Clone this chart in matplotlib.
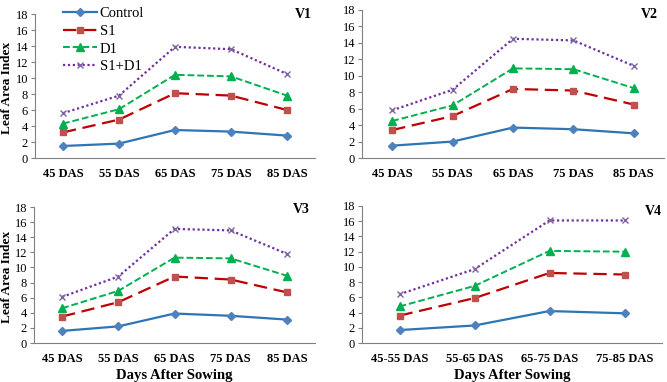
import matplotlib.pyplot as plt
from matplotlib.lines import Line2D

# 数据
das5 = ['45 DAS', '55 DAS', '65 DAS', '75 DAS', '85 DAS']
das4 = ['45-55 DAS', '55-65 DAS', '65-75 DAS', '75-85 DAS']

v1_control = [1.5, 1.8, 3.5, 3.3, 2.8]
v1_s1 = [3.2, 4.8, 8.1, 7.8, 6.0]
v1_d1 = [4.3, 6.1, 10.4, 10.2, 7.8]
v1_s1d1 = [5.6, 7.8, 13.9, 13.6, 10.5]

v2_control = [1.5, 2.0, 3.7, 3.5, 3.0]
v2_s1 = [3.4, 5.1, 8.4, 8.2, 6.5]
v2_d1 = [4.5, 6.4, 10.9, 10.8, 8.5]
v2_s1d1 = [5.8, 8.3, 14.5, 14.3, 11.2]

v3_control = [1.6, 2.2, 3.9, 3.6, 3.1]
v3_s1 = [3.5, 5.4, 8.8, 8.4, 6.7]
v3_d1 = [4.6, 6.9, 11.3, 11.2, 8.9]
v3_s1d1 = [6.1, 8.8, 15.1, 14.9, 11.8]

v4_control = [1.7, 2.3, 4.2, 3.9]
v4_s1 = [3.6, 5.9, 9.2, 9.0]
v4_d1 = [4.8, 7.5, 12.1, 12.0]
v4_s1d1 = [6.4, 9.7, 16.1, 16.1]

series_names = ['Control', 'S1', 'D1', 'S1+D1']

# 样式
styles = [
    dict(color='#2E75B6', ls='-', marker='D', mfc='#4F81BD', mec='#4F81BD', ms=4, lw=1.6),
    dict(color='#C00000', ls=(0, (6, 3)), marker='s', mfc='#C0504D', mec='#C0504D', ms=5, lw=1.6),
    dict(color='#00B050', ls=(0, (3.5, 1.5)), marker='^', mfc='#00B050', mec='#00B050', ms=5.5, lw=1.4),
    dict(color='#7030A0', ls=(0, (1, 1.2)), marker='x', mfc='#8064A2', mec='#8064A2', ms=5, lw=1.6, mew=1.0),
]

plt.rcParams['font.family'] = ['Liberation Serif', 'DejaVu Serif']

W, H = 667, 382
fig = plt.figure(figsize=(W / 100, H / 100), dpi=100)


def px_axes(left, right, top, bottom):
    return fig.add_axes([left / W, 1 - bottom / H, (right - left) / W, (bottom - top) / H])


panels = [
    ('V1', das5, [v1_control, v1_s1, v1_d1, v1_s1d1], (35, 315, 14, 158), (312, 8), True, False),
    ('V2', das5, [v2_control, v2_s1, v2_d1, v2_s1d1], (362, 664, 10, 158), (658, 8), False, False),
    ('V3', das5, [v3_control, v3_s1, v3_d1, v3_s1d1], (34, 315, 207, 343), (310, 203), True, True),
    ('V4', das4, [v4_control, v4_s1, v4_d1, v4_s1d1], (362, 662, 206, 343), (662, 205), False, True),
]

for name, cats, data, box, lab_pos, ylab, xlab in panels:
    ax = px_axes(*box)
    x = [i + 0.5 for i in range(len(cats))]
    for vals, st in zip(data, styles):
        ax.plot(x, vals, **st)
    ax.set_xlim(0, len(cats))
    ax.set_ylim(0, 18)
    ax.set_yticks(range(0, 19, 2))
    ax.set_xticks(x)
    ax.set_xticklabels(cats, fontweight='bold', fontsize=9)
    ax.tick_params(axis='x', length=0, pad=7)
    ax.tick_params(axis='y', length=3, labelsize=9, pad=2, color='#808080')
    for s in ['top', 'right']:
        ax.spines[s].set_visible(False)
    for s in ['left', 'bottom']:
        ax.spines[s].set_color('#808080')
    ymid = (box[2] + box[3]) / 2
    if ylab:
        fig.text(7 / W, 1 - (ymid + 2) / H, 'Leaf Area Index', rotation=90,
                 ha='center', va='center', fontweight='bold', fontsize=9.5)
    fig.text(lab_pos[0] / W, 1 - lab_pos[1] / H, name, ha='right', va='top',
             fontweight='bold', fontsize=10)
    if xlab:
        fig.text((box[0] + box[1]) / 2 / W, 1 - 375 / H, 'Days After Sowing',
                 ha='center', va='center', fontweight='bold', fontsize=10.5)

# 图例
handles = [Line2D([], [], **st) for st in styles]
fig.legend(handles, series_names, loc='upper left', bbox_to_anchor=(53 / W, 1 + 3 / H),
           frameon=False, fontsize=10.5, handlelength=2.3, handletextpad=0.2,
           labelspacing=0.3, borderpad=0.2)

fig.savefig('out.png', dpi=100)
plt.close()
